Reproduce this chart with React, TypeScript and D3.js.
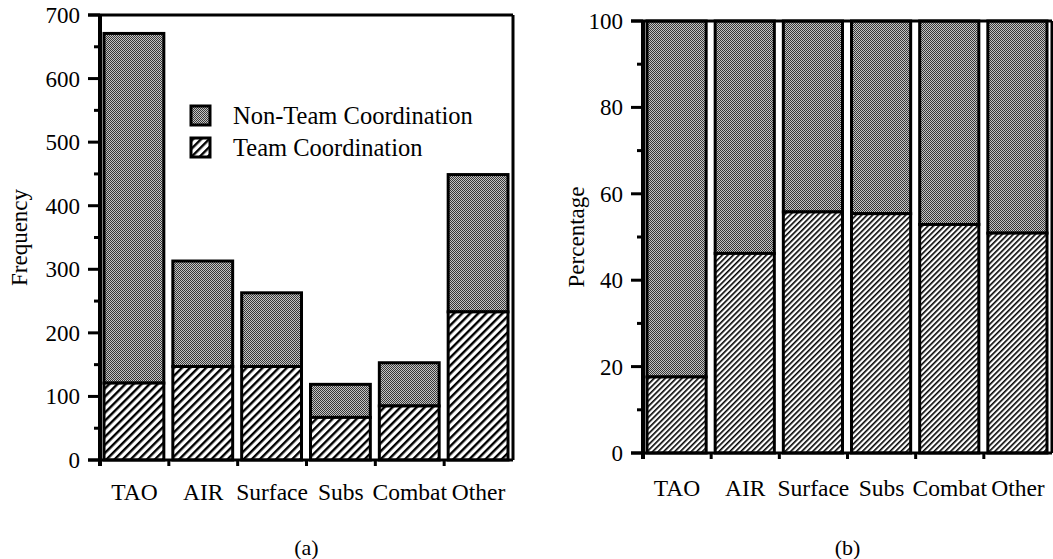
import * as d3 from "d3";
import React from "react";

const categories = ["TAO", "AIR", "Surface", "Subs", "Combat", "Other"];
const teamFreq = [121, 147, 147, 67, 85, 233];
const totalFreq = [671, 313, 263, 119, 153, 449];
const teamPct = [17.6, 46.2, 55.8, 55.4, 52.9, 50.9];
const legendLabels = ["Non-Team  Coordination", "Team Coordination"];

const FONT = '"Liberation Serif", "Times New Roman", Times, serif';

type PanelProps = {
  left: number;
  right: number;
  top: number;
  bottom: number;
  max: number;
  step: number;
  team: number[];
  total: number[];
  hatch: string;
  yLabel: string;
  yLabelX: number;
  caption: string;
  labelY: number;
};

const Panel = ({ left, right, top, bottom, max, step, team, total, hatch, yLabel, yLabelX, caption, labelY }: PanelProps) => {
  const x = d3.scaleBand<string>().domain(categories).range([left, right]).padding(0);
  const y = d3.scaleLinear().domain([0, max]).range([bottom, top]);
  const bw = x.bandwidth();
  const major = d3.range(0, max + 1, step);
  const minor = d3.range(step / 2, max, step);
  const bounds = categories.map((c) => x(c) as number);

  return (
    <g style={{ fontFamily: FONT }} fill="#000">
      {categories.map((c, i) => {
        const x0 = (x(c) as number) + 4;
        const w = bw - 9;
        return (
          <g key={c}>
            <rect x={x0} y={y(total[i])} width={w} height={y(team[i]) - y(total[i])}
              fill="url(#stip)" stroke="#000" strokeWidth={3} />
            <rect x={x0} y={y(team[i])} width={w} height={bottom - y(team[i])}
              fill={`url(#${hatch})`} stroke="#000" strokeWidth={3} />
          </g>
        );
      })}
      {/* frame */}
      <line x1={left - 12} x2={right} y1={top} y2={top} stroke="#000" strokeWidth={3} />
      <line x1={right} x2={right} y1={top} y2={bottom} stroke="#000" strokeWidth={3} />
      <line x1={left} x2={left} y1={top} y2={bottom + 6} stroke="#000" strokeWidth={4} />
      <line x1={left - 12} x2={right} y1={bottom} y2={bottom} stroke="#000" strokeWidth={3} />
      {bounds.map((b, i) => (
        <line key={i} x1={b} x2={b} y1={bottom} y2={bottom + 6} stroke="#000" strokeWidth={3} />
      ))}
      {major.map((t) => (
        <g key={t}>
          <line x1={left - 12} x2={left} y1={y(t)} y2={y(t)} stroke="#000" strokeWidth={3} />
          <text x={left - 20} y={y(t)} dy="0.35em" textAnchor="end" fontSize={23}>{t}</text>
        </g>
      ))}
      {minor.map((t) => (
        <line key={t} x1={left - 6} x2={left} y1={y(t)} y2={y(t)} stroke="#000" strokeWidth={3} />
      ))}
      {categories.map((c) => (
        <text key={c} x={(x(c) as number) + bw / 2} y={labelY} textAnchor="middle" fontSize={23.5}>{c}</text>
      ))}
      <text transform={`translate(${yLabelX},${(top + bottom) / 2}) rotate(-90)`} textAnchor="middle"
        fontSize={23}>{yLabel}</text>
      <text x={(left + right) / 2} y={555} textAnchor="middle" fontSize={22}>{caption}</text>
    </g>
  );
};

export default function App() {
  const pctTotal = categories.map(() => 100);
  return (
    <svg width={1053} height={559} style={{ position: "absolute", left: 0, top: 0, background: "#fff" }}>
      <defs>
        <pattern id="stip" width={2} height={2} patternUnits="userSpaceOnUse">
          <rect width={2} height={2} fill="#c4c4c4" />
          <rect width={1} height={1} fill="#383838" />
          <rect x={1} y={1} width={1} height={1} fill="#383838" />
        </pattern>
        <pattern id="hatchA" width={5.7} height={5.7} patternUnits="userSpaceOnUse" patternTransform="rotate(45)">
          <rect width={5.7} height={5.7} fill="#fff" />
          <rect width={2.4} height={5.7} fill="#000" />
        </pattern>
        <pattern id="hatchB" width={3.9} height={3.9} patternUnits="userSpaceOnUse" patternTransform="rotate(45)">
          <rect width={3.9} height={3.9} fill="#fff" />
          <rect width={1.6} height={3.9} fill="#000" />
        </pattern>
      </defs>
      <Panel left={100} right={513} top={15} bottom={460} max={700} step={100}
        team={teamFreq} total={totalFreq} hatch="hatchA" yLabel="Frequency" yLabelX={27}
        caption="(a)" labelY={500} />
      <Panel left={643} right={1052} top={21} bottom={453} max={100} step={20}
        team={teamPct} total={pctTotal} hatch="hatchB" yLabel="Percentage" yLabelX={584}
        caption="(b)" labelY={496} />
      <g style={{ fontFamily: FONT, whiteSpace: "pre" }}>
        {legendLabels.map((l, i) => (
          <g key={l}>
            <rect x={191} y={106 + i * 32} width={19} height={19}
              fill={i === 0 ? "url(#stip)" : "url(#hatchA)"} stroke="#000" strokeWidth={3} />
            <text x={233} y={124 + i * 32} fontSize={24.5}>{l}</text>
          </g>
        ))}
      </g>
    </svg>
  );
}
